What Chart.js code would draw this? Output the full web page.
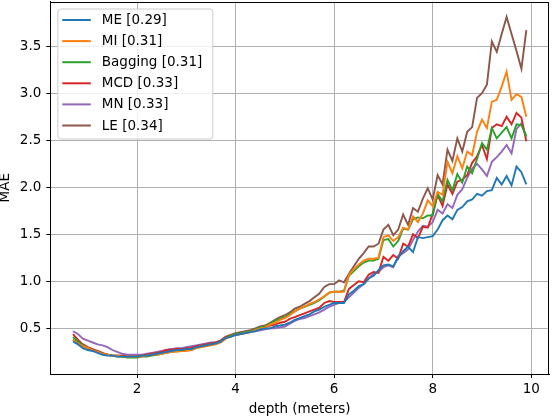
<!DOCTYPE html>
<html>
<head>
<meta charset="utf-8">
<script src="https://cdn.jsdelivr.net/npm/chart.js@4"></script>
<style>
  html, body { margin: 0; padding: 0; background: #fff; }
  #wrap { width: 552px; height: 418px; }
</style>
</head>
<body>
<div id="wrap"><canvas id="chart" width="552" height="418"></canvas></div>
<script>
// depth in meters, one point every 0.1 m
const depth = [
  0.7, 0.8, 0.9, 1.0, 1.1, 1.2, 1.3, 1.4, 1.5, 1.6, 1.7, 1.8, 1.9, 2.0, 2.1, 2.2, 2.3, 2.4, 2.5, 2.6,
  2.7, 2.8, 2.9, 3.0, 3.1, 3.2, 3.3, 3.4, 3.5, 3.6, 3.7, 3.8, 3.9, 4.0, 4.1, 4.2, 4.3, 4.4, 4.5, 4.6,
  4.7, 4.8, 4.9, 5.0, 5.1, 5.2, 5.3, 5.4, 5.5, 5.6, 5.7, 5.8, 5.9, 6.0, 6.1, 6.2, 6.3, 6.4, 6.5, 6.6,
  6.7, 6.8, 6.9, 7.0, 7.1, 7.2, 7.3, 7.4, 7.5, 7.6, 7.7, 7.8, 7.9, 8.0, 8.1, 8.2, 8.3, 8.4, 8.5, 8.6,
  8.7, 8.8, 8.9, 9.0, 9.1, 9.2, 9.3, 9.4, 9.5, 9.6, 9.7, 9.8, 9.9
];

const maeME = [
  0.36, 0.33, 0.29, 0.27, 0.26, 0.24, 0.22, 0.21, 0.21, 0.20, 0.20, 0.20, 0.20, 0.20, 0.21, 0.21, 0.22, 0.23, 0.24, 0.25,
  0.26, 0.27, 0.27, 0.28, 0.28, 0.30, 0.31, 0.32, 0.33, 0.34, 0.36, 0.40, 0.41, 0.43,
  0.44, 0.45, 0.46, 0.47, 0.49, 0.50, 0.50, 0.52, 0.53, 0.54, 0.56, 0.59, 0.61, 0.63, 0.65, 0.68, 0.70, 0.73, 0.75, 0.77,
  0.77, 0.77, 0.86, 0.90, 0.95, 0.97, 1.03, 1.06, 1.12, 1.17, 1.18, 1.16, 1.25, 1.32, 1.37, 1.31, 1.47, 1.46, 1.47,
  1.48, 1.55, 1.65, 1.70, 1.66, 1.76, 1.79, 1.85, 1.87, 1.93, 1.91, 1.96, 1.97, 2.10, 2.03, 2.12, 2.02, 2.22, 2.16, 2.03
];
const maeMI = [
  0.38, 0.34, 0.31, 0.29, 0.27, 0.25, 0.23, 0.22, 0.21, 0.21, 0.20, 0.20, 0.20, 0.20, 0.20, 0.21, 0.22, 0.22, 0.23, 0.24,
  0.25, 0.25, 0.26, 0.26, 0.27, 0.29, 0.30, 0.31, 0.32, 0.33, 0.35, 0.39, 0.41, 0.43,
  0.44, 0.45, 0.46, 0.48, 0.50, 0.51, 0.54, 0.56, 0.59, 0.61, 0.64, 0.68, 0.71, 0.73, 0.76, 0.78, 0.81, 0.84, 0.88, 0.89,
  0.89, 0.89, 1.07, 1.13, 1.18, 1.22, 1.24, 1.24, 1.25, 1.47, 1.49, 1.43, 1.47, 1.57, 1.55, 1.69, 1.63, 1.72, 1.86,
  1.80, 1.95, 1.92, 2.27, 2.15, 2.33, 2.20, 2.38, 2.34, 2.59, 2.72, 2.63, 2.91, 2.93, 3.07, 3.23, 2.93, 2.99, 2.96, 2.75
];
const maeBagging = [
  0.41, 0.36, 0.32, 0.29, 0.27, 0.25, 0.23, 0.22, 0.21, 0.20, 0.20, 0.19, 0.19, 0.19, 0.20, 0.20, 0.21, 0.22, 0.23, 0.24,
  0.25, 0.26, 0.26, 0.27, 0.27, 0.29, 0.30, 0.32, 0.33, 0.34, 0.36, 0.40, 0.42, 0.44,
  0.45, 0.46, 0.47, 0.49, 0.51, 0.52, 0.55, 0.58, 0.60, 0.62, 0.65, 0.68, 0.71, 0.73, 0.75, 0.77, 0.80, 0.84, 0.88, 0.89,
  0.89, 0.90, 1.06, 1.11, 1.16, 1.20, 1.22, 1.22, 1.24, 1.44, 1.45, 1.37, 1.43, 1.56, 1.55, 1.66, 1.68, 1.67, 1.70,
  1.70, 1.93, 1.85, 2.08, 1.97, 2.14, 2.05, 2.22, 2.15, 2.30, 2.47, 2.40, 2.63, 2.52, 2.58, 2.64, 2.52, 2.67, 2.66, 2.54
];
const maeMCD = [
  0.44, 0.38, 0.33, 0.30, 0.28, 0.26, 0.24, 0.22, 0.21, 0.21, 0.21, 0.20, 0.20, 0.20, 0.21, 0.22, 0.23, 0.24, 0.25, 0.27,
  0.27, 0.28, 0.28, 0.29, 0.29, 0.31, 0.32, 0.33, 0.34, 0.35, 0.37, 0.41, 0.42, 0.44,
  0.45, 0.46, 0.47, 0.49, 0.50, 0.51, 0.53, 0.54, 0.56, 0.57, 0.60, 0.62, 0.64, 0.66, 0.68, 0.70, 0.72, 0.77, 0.79, 0.78,
  0.78, 0.78, 0.92, 0.96, 1.00, 0.99, 1.07, 1.10, 1.09, 1.26, 1.22, 1.28, 1.24, 1.40, 1.37, 1.50, 1.46, 1.58, 1.57,
  1.72, 1.92, 1.80, 2.03, 1.93, 2.06, 2.08, 2.13, 2.26, 2.33, 2.45, 2.30, 2.63, 2.67, 2.65, 2.75, 2.67, 2.79, 2.74, 2.49
];
const maeMN = [
  0.47, 0.44, 0.39, 0.37, 0.35, 0.33, 0.32, 0.30, 0.27, 0.25, 0.23, 0.22, 0.22, 0.22, 0.22, 0.23, 0.24, 0.25, 0.26, 0.27,
  0.28, 0.29, 0.29, 0.30, 0.31, 0.32, 0.33, 0.34, 0.35, 0.35, 0.37, 0.40, 0.42, 0.43,
  0.44, 0.45, 0.46, 0.47, 0.48, 0.49, 0.50, 0.50, 0.51, 0.52, 0.55, 0.58, 0.60, 0.61, 0.63, 0.65, 0.67, 0.70, 0.73, 0.75,
  0.77, 0.78, 0.83, 0.88, 0.93, 0.97, 1.03, 1.08, 1.10, 1.15, 1.17, 1.15, 1.27, 1.30, 1.34, 1.44, 1.53, 1.59, 1.58,
  1.63, 1.76, 1.72, 1.82, 1.78, 1.92, 1.98, 2.10, 2.20, 2.25, 2.19, 2.12, 2.27, 2.32, 2.38, 2.45, 2.36, 2.62, 2.68, 2.54
];
const maeLE = [
  0.38, 0.35, 0.31, 0.29, 0.27, 0.25, 0.23, 0.22, 0.21, 0.21, 0.21, 0.21, 0.21, 0.21, 0.21, 0.22, 0.23, 0.24, 0.25, 0.27,
  0.28, 0.28, 0.28, 0.29, 0.29, 0.31, 0.32, 0.33, 0.34, 0.35, 0.37, 0.41, 0.43, 0.45,
  0.46, 0.47, 0.48, 0.50, 0.52, 0.53, 0.56, 0.59, 0.62, 0.64, 0.67, 0.71, 0.73, 0.76, 0.79, 0.83, 0.87, 0.94, 0.97, 0.97,
  1.01, 0.99, 1.08, 1.16, 1.24, 1.30, 1.37, 1.37, 1.40, 1.55, 1.60, 1.49, 1.55, 1.71, 1.60, 1.78, 1.74, 1.88, 1.99,
  1.87, 2.13, 2.03, 2.40, 2.28, 2.52, 2.38, 2.59, 2.64, 2.95, 3.00, 3.09, 3.55, 3.44, 3.63, 3.81, 3.63, 3.45, 3.26, 3.67
];

const seriesNames = ["ME [0.29]", "MI [0.31]", "Bagging [0.31]", "MCD [0.33]", "MN [0.33]", "LE [0.34]"];
const seriesValues = [maeME, maeMI, maeBagging, maeMCD, maeMN, maeLE];
const seriesColors = ["#1f77b4", "#ff7f0e", "#2ca02c", "#d62728", "#9467bd", "#8c564b"];

const xTicks = [2, 4, 6, 8, 10];
const yTicks = [0.5, 1.0, 1.5, 2.0, 2.5, 3.0, 3.5];

const FONT = '"DejaVu Sans", sans-serif';
Chart.defaults.font.family = FONT;
Chart.defaults.color = "#000";

// matplotlib style: full box round the axes and the legend inside, top left
const boxAndLegend = {
  id: "boxAndLegend",
  afterDatasetsDraw(chart) {
    const ctx = chart.ctx;
    const a = chart.chartArea;
    ctx.save();
    ctx.strokeStyle = "#000";
    ctx.lineWidth = 1;
    ctx.strokeRect(Math.round(a.left) + 0.5, Math.round(a.top) + 0.5,
      Math.round(a.right - a.left) - 1, Math.round(a.bottom - a.top) - 1);

    const lx = a.left + 7, ly = a.top + 7, lw = 155, lh = 130;
    ctx.beginPath();
    ctx.roundRect(lx + 0.5, ly + 0.5, lw, lh, 3);
    ctx.fillStyle = "rgba(255,255,255,0.8)";
    ctx.fill();
    ctx.strokeStyle = "#cccccc";
    ctx.stroke();

    ctx.font = "13.5px " + FONT;
    ctx.textBaseline = "middle";
    ctx.textAlign = "left";
    chart.data.datasets.forEach((ds, i) => {
      const y = ly + 11.5 + i * 21.1;
      ctx.strokeStyle = ds.borderColor;
      ctx.lineWidth = 2;
      ctx.beginPath();
      ctx.moveTo(lx + 5, y);
      ctx.lineTo(lx + 33.5, y);
      ctx.stroke();
      ctx.fillStyle = "#000";
      ctx.fillText(ds.label, lx + 44.5, y + 0.5);
    });
    ctx.restore();
  }
};

new Chart(document.getElementById("chart"), {
  type: "line",
  data: {
    datasets: seriesNames.map((name, i) => ({
      label: name,
      data: depth.map((d, j) => ({ x: d, y: seriesValues[i][j] })),
      borderColor: seriesColors[i],
      backgroundColor: seriesColors[i],
      borderWidth: 1.9,
      pointRadius: 0,
      tension: 0,
      fill: false
    }))
  },
  options: {
    responsive: false,
    animation: false,
    devicePixelRatio: 1,
    layout: { padding: { left: 0, top: 1.5, right: 3, bottom: 0 } },
    plugins: { legend: { display: false }, tooltip: { enabled: false } },
    scales: {
      x: {
        type: "linear",
        min: 0.24,
        max: 10.36,
        afterBuildTicks: s => { s.ticks = xTicks.map(v => ({ value: v })); },
        afterFit: s => { s.height = 44; s.paddingLeft = 0; s.paddingRight = 0; },
        ticks: {
          font: { size: 13.5 },
          color: "#000",
          padding: 3,
          maxRotation: 0,
          autoSkip: false,
          callback: v => String(v)
        },
        grid: { color: "#b0b0b0", lineWidth: 1, tickColor: "#000", tickLength: 4 },
        border: { display: true, color: "#000" },
        title: {
          display: true,
          text: "depth (meters)",
          color: "#000",
          font: { size: 13.5, lineHeight: 1.2 },
          padding: 0
        }
      },
      y: {
        min: 0.015,
        max: 3.975,
        afterBuildTicks: s => { s.ticks = yTicks.map(v => ({ value: v })); },
        afterFit: s => { s.width = 50.3; s.paddingTop = 0; s.paddingBottom = 0; },
        ticks: {
          font: { size: 13.5 },
          color: "#000",
          padding: 5,
          autoSkip: false,
          callback: v => v.toFixed(1)
        },
        grid: { color: "#b0b0b0", lineWidth: 1, tickColor: "#000", tickLength: 4 },
        border: { display: true, color: "#000" },
        title: {
          display: true,
          text: "MAE",
          color: "#000",
          font: { size: 13.5, lineHeight: 0.8 },
          padding: 0
        }
      }
    }
  },
  plugins: [boxAndLegend]
});
</script>
</body>
</html>
